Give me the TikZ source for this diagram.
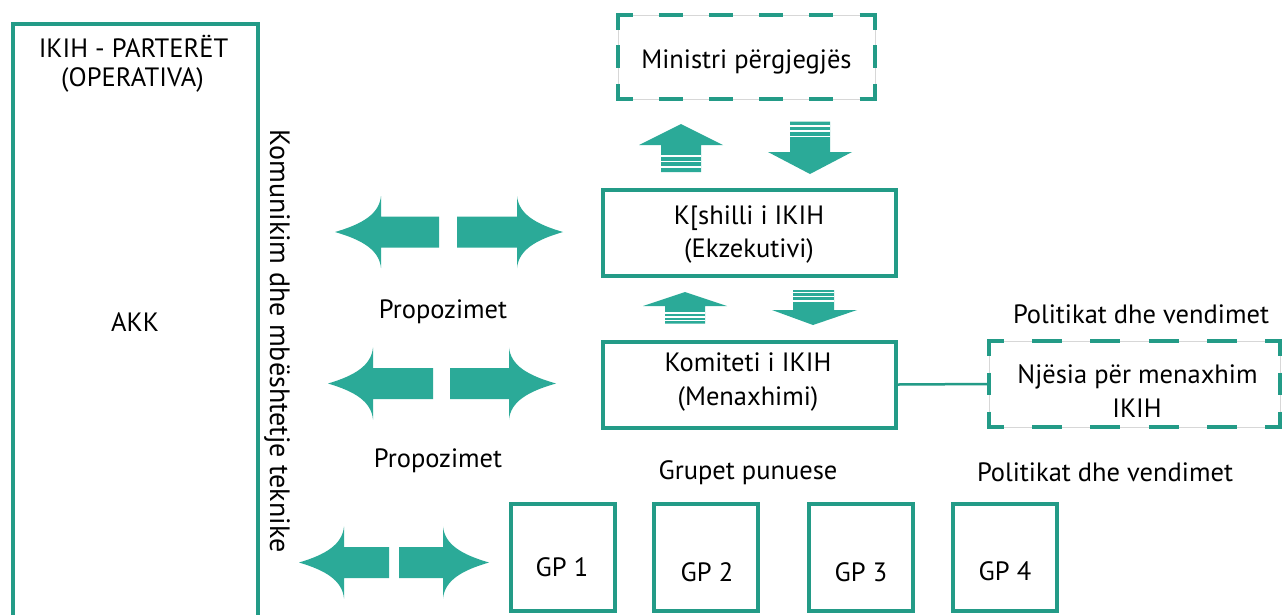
\documentclass[tikz,border=0pt]{standalone}
\usepackage{fontspec}
\setmainfont{PT Sans}
\definecolor{tealB}{RGB}{35,155,135}
\definecolor{tealF}{RGB}{43,170,152}
\definecolor{lgray}{RGB}{215,215,215}
% horizontal curved arrow: #1 tip x, #2 head back x, #3 shaft end x, #4 centre y
\newcommand\harrow[4]{%
  \fill[afill] (#1,#4) .. controls ({#1+0.6*(#2-#1)},#4-8) and ({#2-0.04*(#2-#1)},#4-18) .. (#2,#4-36)
    -- (#2,#4-15.5) -- (#3,#4-15.5) -- (#3,#4+15.5) -- (#2,#4+15.5) -- (#2,#4+36)
    .. controls ({#2-0.04*(#2-#1)},#4+18) and ({#1+0.6*(#2-#1)},#4+8) .. (#1,#4) -- cycle;}
% dashed frame around a node: #1 node, #2 h dash, #3 h gap, #4 v dash, #5 v gap
\newcommand\dashframe[5]{%
  \draw[dsh] ([xshift=15pt]#1.north west) -- (#1.north west) -- ([yshift=-15pt]#1.north west);
  \draw[dsh] ([xshift=-15pt]#1.north east) -- (#1.north east) -- ([yshift=-15pt]#1.north east);
  \draw[dsh] ([xshift=15pt]#1.south west) -- (#1.south west) -- ([yshift=15pt]#1.south west);
  \draw[dsh] ([xshift=-15pt]#1.south east) -- (#1.south east) -- ([yshift=15pt]#1.south east);
  \draw[dsh, dash pattern=on #2pt off #3pt, dash phase=#2pt] ([xshift=15pt]#1.north west) -- ([xshift=-15pt]#1.north east);
  \draw[dsh, dash pattern=on #2pt off #3pt, dash phase=#2pt] ([xshift=15pt]#1.south west) -- ([xshift=-15pt]#1.south east);
  \draw[dsh, dash pattern=on #4pt off #5pt, dash phase=#4pt] ([yshift=-15pt]#1.north west) -- ([yshift=15pt]#1.south west);
  \draw[dsh, dash pattern=on #4pt off #5pt, dash phase=#4pt] ([yshift=-15pt]#1.north east) -- ([yshift=15pt]#1.south east);}
\begin{document}
\begin{tikzpicture}[x=1pt,y=-1pt,
  lbl/.style={font=\fontsize{26.5}{32}\selectfont, inner sep=0pt, align=center, text=black},
  sbox/.style={draw=tealB, line width=4pt, inner sep=0pt},
  gbox/.style={draw=lgray, line width=0.7pt, inner sep=0pt},
  dsh/.style={draw=tealB, line width=4pt, line join=miter},
  conn/.style={draw=tealB, line width=2.5pt},
  afill/.style={fill=tealF},
  wline/.style={draw=white, line width=1.4pt}]
\useasboundingbox (0,0) rectangle (1283,614);
\fill[white] (0,0) rectangle (1283,614);

% left column
\node[sbox, minimum width=245.5pt, minimum height=612pt] (akkbox) at (135.25,330) {};
\node[lbl, anchor=base] (ikih) at (133.5,57) {IKIH - PARTERËT};
\node[lbl, anchor=base] (oper) at (132.5,86) {(OPERATIVA)};
\node[lbl, anchor=base] (akk) at (135,331) {AKK};
\node[lbl, font=\fontsize{28}{32}\selectfont, rotate=-90] (komun) at (277,341) {Komunikim dhe mbështetje teknike};

% Ministri
\node[gbox, minimum width=257pt, minimum height=84pt] (min) at (746.5,57) {};
\node[lbl, anchor=base] (mint) at (746.5,68) {Ministri përgjegjës};
\dashframe{min}{24}{26.2}{23}{15.5}

% striped arrows, top pair
\fill[afill] (681,124) -- (723,145) -- (701,145) -- (701,172) -- (661,172) -- (661,145) -- (639,145) -- cycle;
\draw[wline] (661,156) -- (701,156);
\draw[wline] (661,161.5) -- (701,161.5);
\draw[wline] (661,167) -- (701,167);
\fill[afill] (790,121.5) -- (830,121.5) -- (830,152) -- (852,152) -- (810,174) -- (768,152) -- (790,152) -- cycle;
\draw[wline] (790,126) -- (830,126);
\draw[wline] (790,131) -- (830,131);
\draw[wline] (790,136.5) -- (830,136.5);

% Keshilli
\node[sbox, minimum width=293.5pt, minimum height=86pt] (kesh) at (749.25,232.5) {};
\node[lbl, anchor=base] (kesht1) at (749,224) {K[shilli i IKIH};
\node[lbl, anchor=base] (kesht2) at (749,257) {(Ekzekutivi)};

% striped arrows, middle pair
\fill[afill] (685,292) -- (727,306) -- (705,306) -- (705,323.5) -- (665,323.5) -- (665,306) -- (643,306) -- cycle;
\draw[wline] (665,313) -- (705,313);
\draw[wline] (665,317) -- (705,317);
\draw[wline] (665,320.3) -- (705,320.3);
\fill[afill] (793,290) -- (834,290) -- (834,310) -- (857,310) -- (813,325) -- (772,310) -- (793,310) -- cycle;
\draw[wline] (793,292.5) -- (834,292.5);
\draw[wline] (793,296.5) -- (834,296.5);
\draw[wline] (793,301) -- (834,301);

% Komiteti
\node[sbox, minimum width=293.5pt, minimum height=86pt] (komit) at (749.25,384.5) {};
\node[lbl, anchor=base] (komt1) at (748,371) {Komiteti i IKIH};
\node[lbl, anchor=base] (komt2) at (748,405) {(Menaxhimi)};

% Njesia
\node[gbox, minimum width=291pt, minimum height=86pt] (njes) at (1134.5,384) {};
\node[lbl, anchor=base] (njest1) at (1137.5,383) {Njësia për menaxhim};
\node[lbl, anchor=base] (njest2) at (1137,417) {IKIH};
\dashframe{njes}{30}{28.4}{22}{17}
\draw[conn] (komit.east) -- (njes.west);

% labels
\node[lbl, anchor=base] (pol1) at (1141,323) {Politikat dhe vendimet};
\node[lbl, anchor=base] (prop1) at (443,318) {Propozimet};
\node[lbl, anchor=base] (prop2) at (438,467) {Propozimet};
\node[lbl, anchor=base] (grup) at (748,479) {Grupet punuese};
\node[lbl, anchor=base] (pol2) at (1105,481) {Politikat dhe vendimet};

% double arrows
\harrow{335}{381}{439}{232}
\harrow{563}{517}{457}{232}
\harrow{328}{373}{433}{383.5}
\harrow{556}{509}{450}{383.5}
\harrow{299}{344}{389}{562.5}
\harrow{489}{443}{399}{562.5}

% working groups
\node[sbox, minimum width=104pt, minimum height=107pt] (gp1) at (563,557.5) {};
\node[sbox, minimum width=104pt, minimum height=107pt] (gp2) at (705.5,557.5) {};
\node[sbox, minimum width=104pt, minimum height=107pt] (gp3) at (861,557.5) {};
\node[sbox, minimum width=104pt, minimum height=107pt] (gp4) at (1004.5,557.5) {};
\node[lbl, anchor=base] (gp1t) at (562,576) {GP 1};
\node[lbl, anchor=base] (gp2t) at (707,581) {GP 2};
\node[lbl, anchor=base] (gp3t) at (861,581) {GP 3};
\node[lbl, anchor=base] (gp4t) at (1005,580) {GP 4};
\end{tikzpicture}
\end{document}
